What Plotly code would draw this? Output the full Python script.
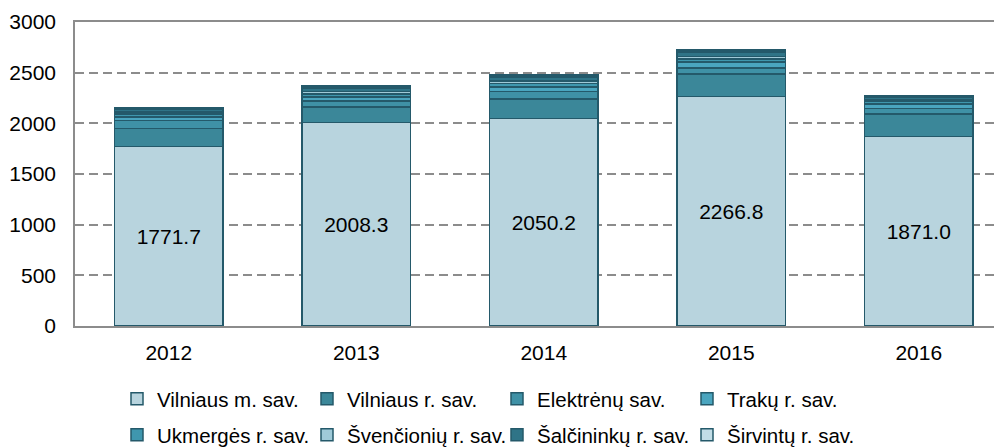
import plotly.graph_objects as go

years = ["2012", "2013", "2014", "2015", "2016"]

vilniaus_m = [1771.7, 2008.3, 2050.2, 2266.8, 1871.0]
vilniaus_r = [175, 152, 188, 219, 221]
elektrenu = [79, 60, 75, 59, 56]
traku = [36, 40, 43, 59, 42]
ukmerges = [30, 30, 39, 33, 25]
svencioniu = [20, 25, 23, 23, 15]
salcininku = [32, 35, 40, 45, 25]
sirvintu = [15, 19, 19, 19, 15]

series_names = [
    "Vilniaus m. sav.", "Vilniaus r. sav.", "Elektrėnų sav.", "Trakų r. sav.",
    "Ukmergės r. sav.", "Švenčionių r. sav.", "Šalčininkų r. sav.", "Širvintų r. sav.",
]
series_values = [vilniaus_m, vilniaus_r, elektrenu, traku,
                 ukmerges, svencioniu, salcininku, sirvintu]
colors = ["#b8d4de", "#3b8799", "#3f91a6", "#4aa5bf",
          "#3f97ae", "#9fcad8", "#2f7487", "#c2dde6"]

yticks = [0, 500, 1000, 1500, 2000, 2500, 3000]

FONT = "Liberation Sans, Arial, sans-serif"
FS = 21
LFS = 20.5

fig = go.Figure()
for i, (name, vals, col) in enumerate(zip(series_names, series_values, colors)):
    kw = {}
    if i == 0:
        kw = dict(text=[f"{v:.1f}" for v in vals], textposition="inside",
                  insidetextanchor="middle", textangle=0,
                  textfont=dict(size=FS, color="#000000", family=FONT))
    fig.add_trace(go.Bar(
        x=years, y=vals, name=name,
        marker=dict(color=col, line=dict(color="#24596a", width=1.5)),
        width=0.58,
        legend="legend" if i < 4 else "legend2",
        hoverinfo="skip",
        **kw,
    ))

# page has an 8px body margin: figure coordinates = page coordinates - 8
OFF = 8
W, H = 1002 - OFF, 448 - OFF
ml, mr, mt = 75 - OFF, 0, 22 - OFF
mb = H - (326 - OFF)
ph = H - mt - mb
pw = W - ml - mr

def py(page_px):
    return (H - mb - (page_px - OFF)) / ph

def px(page_px):
    return ((page_px - OFF) - ml) / pw

legend_common = dict(
    orientation="h", xanchor="left", yanchor="middle",
    entrywidthmode="pixels", traceorder="normal", entrywidth=145,
    font=dict(size=LFS, color="#000000", family=FONT),
    bgcolor="rgba(0,0,0,0)", itemclick=False, itemdoubleclick=False,
)

fig.update_layout(
    width=W, height=H,
    margin=dict(l=ml, r=mr, t=mt, b=mb, autoexpand=False),
    barmode="stack",
    paper_bgcolor="white", plot_bgcolor="white",
    font=dict(family=FONT, size=FS, color="#000000"),
    legend=dict(x=px(117), y=py(399), **legend_common),
    legend2=dict(x=px(117), y=py(435), **legend_common),
    uniformtext=dict(mode=False),
)

fig.update_xaxes(
    type="category", range=[-0.5, 4.444],
    showline=True, linecolor="#8c8c8c", linewidth=1.5, mirror=True,
    showgrid=False, ticks="", ticklabelstandoff=7,
    tickfont=dict(size=FS, color="#000000", family=FONT),
)
fig.update_yaxes(
    range=[0, 3000], tickvals=yticks, ticktext=[str(t) for t in yticks],
    showline=True, linecolor="#8c8c8c", linewidth=1.5,
    showgrid=True, gridcolor="#8c8c8c", gridwidth=1.5, griddash="9px,5px",
    zeroline=False, ticks="", ticklabelstandoff=13,
    tickfont=dict(size=FS, color="#000000", family=FONT),
)

fig.write_html("out.html")
